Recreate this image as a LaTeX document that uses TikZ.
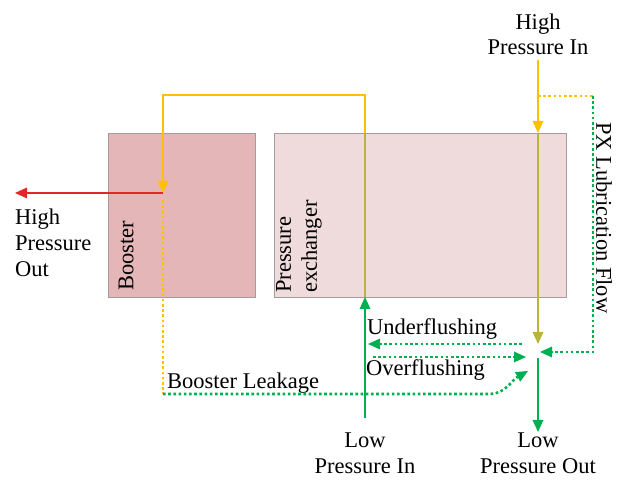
\documentclass[tikz,border=0pt]{standalone}
\usepackage{fontspec}
\setmainfont{Liberation Serif}
\usetikzlibrary{arrows.meta}
\definecolor{hpy}{HTML}{FFC000}
\definecolor{lpg}{HTML}{00B050}
\definecolor{hpr}{HTML}{E02828}
\definecolor{mixc}{HTML}{B8B43C}
\definecolor{boostfill}{HTML}{E4B6B8}
\definecolor{pxfill}{HTML}{F0DBDC}
\definecolor{boxline}{HTML}{A89A9A}
\begin{document}
\begin{tikzpicture}[x=1pt,y=-1pt,
  font=\fontsize{22.5}{26}\selectfont,
  unitbox/.style={draw=boxline, line width=1pt, anchor=north west, inner sep=0pt},
  lbl/.style={inner sep=0pt},
  flow/.style={line width=2pt},
  tipA/.style={-{Triangle[length=12pt,width=11pt,line width=0pt]}},
  dotline/.style={line width=2.6pt, dash pattern=on 2.6pt off 2.6pt},
]
\useasboundingbox (0,0) rectangle (622,481);

% boxes
\node[unitbox, fill=boostfill, minimum width=147pt, minimum height=164pt] (booster) at (108,133) {};
\node[unitbox, fill=pxfill, minimum width=292pt, minimum height=164pt] (px) at (274,133) {};

% coordinates
\coordinate (lpinTop) at (365,297);
\coordinate (lpinBot) at (365,418);
\coordinate (pxTopL) at (365,133);
\coordinate (cornerR) at (365,95);
\coordinate (cornerL) at (163,95);
\coordinate (bjunc) at (163,193);
\coordinate (hpoutTip) at (15,193);
\coordinate (bleakTop) at (163,200);
\coordinate (bleakCorner) at (163,394);
\coordinate (bleakBend) at (490,394);
\coordinate (bleakTip) at (528,371);
\coordinate (hpinTop) at (538,60);
\coordinate (lubeJ) at (538,96);
\coordinate (lubeCorner) at (593,96);
\coordinate (lubeLow) at (593,352);
\coordinate (lubeTip) at (540,352);
\coordinate (pxTopR) at (538,133);
\coordinate (mixTip) at (538,344);
\coordinate (outTop) at (538,358);
\coordinate (outTip) at (538,432);
\coordinate (ufR) at (522,344);
\coordinate (ufL) at (368,344);
\coordinate (ofL) at (373,357);
\coordinate (ofR) at (526,357);

% texts
\node[lbl, anchor=north] (hpin) at (538,11) {\begin{tabular}{@{}c@{}}High\\[-1pt]Pressure In\end{tabular}};
\node[lbl, anchor=north west, align=left] (hpout) at (15,209) {High\\Pressure\\Out};
\node[lbl, rotate=90, anchor=west] (boostlbl) at (126,291) {Booster};
\node[lbl, rotate=90, anchor=north west, align=left] (pxlbl) at (276,293) {Pressure\\exchanger};
\node[lbl, rotate=-90, anchor=west] (lube) at (604,122) {PX Lubrication Flow};
\node[lbl, anchor=base west] (uf) at (367,335) {Underflushing};
\node[lbl, anchor=base west] (of) at (366,376) {Overflushing};
\node[lbl, anchor=base west] (bl) at (167,389) {Booster Leakage};
\node[lbl, anchor=north, align=center] (lpin) at (365,433) {Low\\Pressure In};
\node[lbl, anchor=north, align=center] (lpout) at (538,433) {Low\\Pressure Out};

% yellow high-pressure loop through booster
\draw[flow, mixc] (lpinTop) -- (pxTopL);
\draw[flow, hpy, tipA] (pxTopL) -- (cornerR) -- (cornerL) -- (bjunc);
\draw[flow, hpr, tipA] (bjunc) -- (hpoutTip);
\draw[flow, lpg, tipA] (lpinBot) -- (lpinTop);

% booster leakage
\draw[dotline, hpy] (bleakTop) -- (bleakCorner);
\draw[dotline, lpg, tipA] (bleakCorner) -- (bleakBend) .. controls (505,394) and (512,380) .. (bleakTip);

% high pressure in
\draw[flow, hpy, tipA] (hpinTop) -- (pxTopR);
\draw[flow, mixc, tipA] (pxTopR) -- (mixTip);

% lubrication
\draw[dotline, hpy] (lubeJ) -- (lubeCorner);
\draw[dotline, lpg, tipA] (lubeCorner) -- (lubeLow) -- (lubeTip);

% flushing
\draw[dotline, lpg, tipA] (ufR) -- (ufL);
\draw[dotline, lpg, tipA] (ofL) -- (ofR);

% low pressure out
\draw[flow, lpg, tipA] (outTop) -- (outTip);
\end{tikzpicture}
\end{document}
